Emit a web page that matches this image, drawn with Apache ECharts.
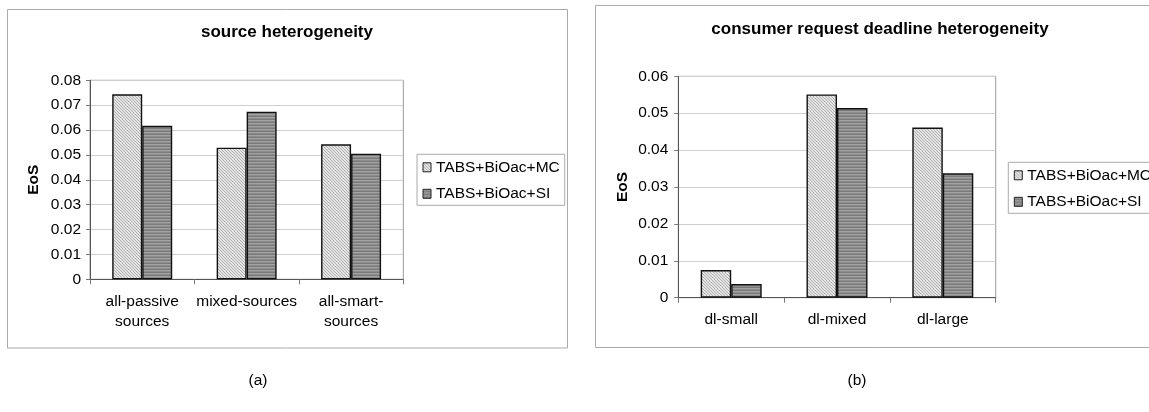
<!DOCTYPE html>
<html><head><meta charset="utf-8">
<script src="https://cdn.jsdelivr.net/npm/echarts@6/dist/echarts.min.js"></script>
<style>html,body{margin:0;padding:0;background:#fff}#c{width:1149px;height:412px}</style>
</head><body><div id="c"></div>
<script>
// ---- data ----
const seriesNames = ['TABS+BiOac+MC', 'TABS+BiOac+SI'];
const titleA = 'source heterogeneity';
const titleB = 'consumer request deadline heterogeneity';
const categoriesA = ['all-passive\nsources', 'mixed-sources', 'all-smart-\nsources'];
const mcA = [0.0744, 0.0529, 0.0543];
const siA = [0.0617, 0.0674, 0.0505];
const categoriesB = ['dl-small', 'dl-mixed', 'dl-large'];
const mcB = [0.0075, 0.0551, 0.0461];
const siB = [0.0037, 0.0514, 0.0337];
const yMaxA = 0.08, yMaxB = 0.06, yStep = 0.01;
const yAxisName = 'EoS';
const captions = ['(a)', '(b)'];

const FONT = '"Liberation Sans", Arial, Helvetica, sans-serif';

function patMC() {
  const c = document.createElement('canvas'); c.width = 3; c.height = 3;
  const g = c.getContext('2d');
  g.fillStyle = '#e3e3e3'; g.fillRect(0, 0, 3, 3);
  g.fillStyle = '#b2b2b2';
  for (let i = 0; i < 3; i++) g.fillRect(i, i, 1, 1);
  return c;
}
function patSI() {
  const c = document.createElement('canvas'); c.width = 2; c.height = 3;
  const g = c.getContext('2d');
  g.fillStyle = '#a2a2a2'; g.fillRect(0, 0, 2, 1);
  g.fillStyle = '#8c8c8c'; g.fillRect(0, 1, 2, 1);
  g.fillStyle = '#7a7a7a'; g.fillRect(0, 2, 2, 1);
  return c;
}
const styleMC = { color: { image: patMC(), repeat: 'repeat' }, borderColor: '#111', borderWidth: 1.4 };
const styleSI = { color: { image: patSI(), repeat: 'repeat' }, borderColor: '#111', borderWidth: 1.4 };

function xAxis(gridIndex, data) {
  return {
    type: 'category', gridIndex, data,
    axisLine: { lineStyle: { color: '#555', width: 1 } },
    axisTick: { show: true, length: 5, lineStyle: { color: '#777' } },
    axisLabel: { interval: 0, margin: 12, fontSize: 15.5, lineHeight: 20, color: '#000', fontFamily: FONT },
    splitLine: { show: false }
  };
}
function yAxis(gridIndex, max, gap, margin) {
  return {
    type: 'value', gridIndex, min: 0, max, interval: yStep,
    name: yAxisName, nameLocation: 'middle', nameRotate: 90, nameGap: gap,
    nameTextStyle: { fontSize: 15.5, fontWeight: 'bold', color: '#000', fontFamily: FONT },
    axisLine: { show: true, lineStyle: { color: '#555', width: 1 } },
    axisTick: { show: true, length: 4, lineStyle: { color: '#777' } },
    axisLabel: { margin, fontSize: 15.5, color: '#000', fontFamily: FONT,
      formatter: v => v === 0 ? '0' : v.toFixed(2) },
    splitLine: { show: true, lineStyle: { color: '#cfcfcf', width: 1 } }
  };
}
function legend(left, top) {
  return {
    orient: 'vertical', left, top, data: seriesNames, icon: 'rect',
    padding: [5, 5, 3.5, 5.5], itemWidth: 8, itemHeight: 9, itemGap: 10.5,
    borderColor: '#aaa', borderWidth: 1, backgroundColor: '#fff',
    itemStyle: { borderColor: '#222', borderWidth: 1 },
    textStyle: { fontSize: 15.5, color: '#000', fontFamily: FONT }
  };
}
function bar(name, data, xi, style, bw) {
  return { type: 'bar', name, data, xAxisIndex: xi, yAxisIndex: xi, barWidth: bw, barGap: '0%',
    itemStyle: style, emphasis: { disabled: true }, animation: false };
}

const chart = echarts.init(document.getElementById('c'), null, { renderer: 'canvas' });
chart.setOption({
  backgroundColor: '#fff',
  animation: false,
  grid: [
    { left: 90, top: 80.3, width: 313.3, height: 199, show: true, borderColor: '#999', borderWidth: 1, backgroundColor: 'transparent' },
    { left: 678.3, top: 76.3, width: 317.4, height: 221.4, show: true, borderColor: '#999', borderWidth: 1, backgroundColor: 'transparent' }
  ],
  xAxis: [xAxis(0, categoriesA), xAxis(1, categoriesB)],
  yAxis: [yAxis(0, yMaxA, 48, 9), yAxis(1, yMaxB, 48, 10)],
  legend: [legend(417, 154.3), legend(1008.3, 162.3)],
  series: [
    bar(seriesNames[0], mcA, 0, styleMC, 30),
    bar(seriesNames[1], siA, 0, styleSI, 30),
    bar(seriesNames[0], mcB, 1, styleMC, 30.5),
    bar(seriesNames[1], siB, 1, styleSI, 30.5)
  ],
  graphic: [
    { type: 'rect', z: -10, shape: { x: 7.5, y: 9.5, width: 560, height: 338.5 }, style: { fill: '#fff', stroke: '#aaa', lineWidth: 1 } },
    { type: 'rect', z: -10, shape: { x: 595.5, y: 5.5, width: 570, height: 342 }, style: { fill: '#fff', stroke: '#aaa', lineWidth: 1 } },
    { type: 'text', x: 287, y: 32, style: { text: titleA, font: 'bold 17px ' + FONT, fill: '#000', textAlign: 'center', textVerticalAlign: 'middle' } },
    { type: 'text', x: 880, y: 29, style: { text: titleB, font: 'bold 17px ' + FONT, fill: '#000', textAlign: 'center', textVerticalAlign: 'middle' } },
    { type: 'text', x: 258, y: 381, style: { text: captions[0], font: '15.5px ' + FONT, fill: '#000', textAlign: 'center', textVerticalAlign: 'middle' } },
    { type: 'text', x: 857, y: 381, style: { text: captions[1], font: '15.5px ' + FONT, fill: '#000', textAlign: 'center', textVerticalAlign: 'middle' } }
  ]
});
</script></body></html>
